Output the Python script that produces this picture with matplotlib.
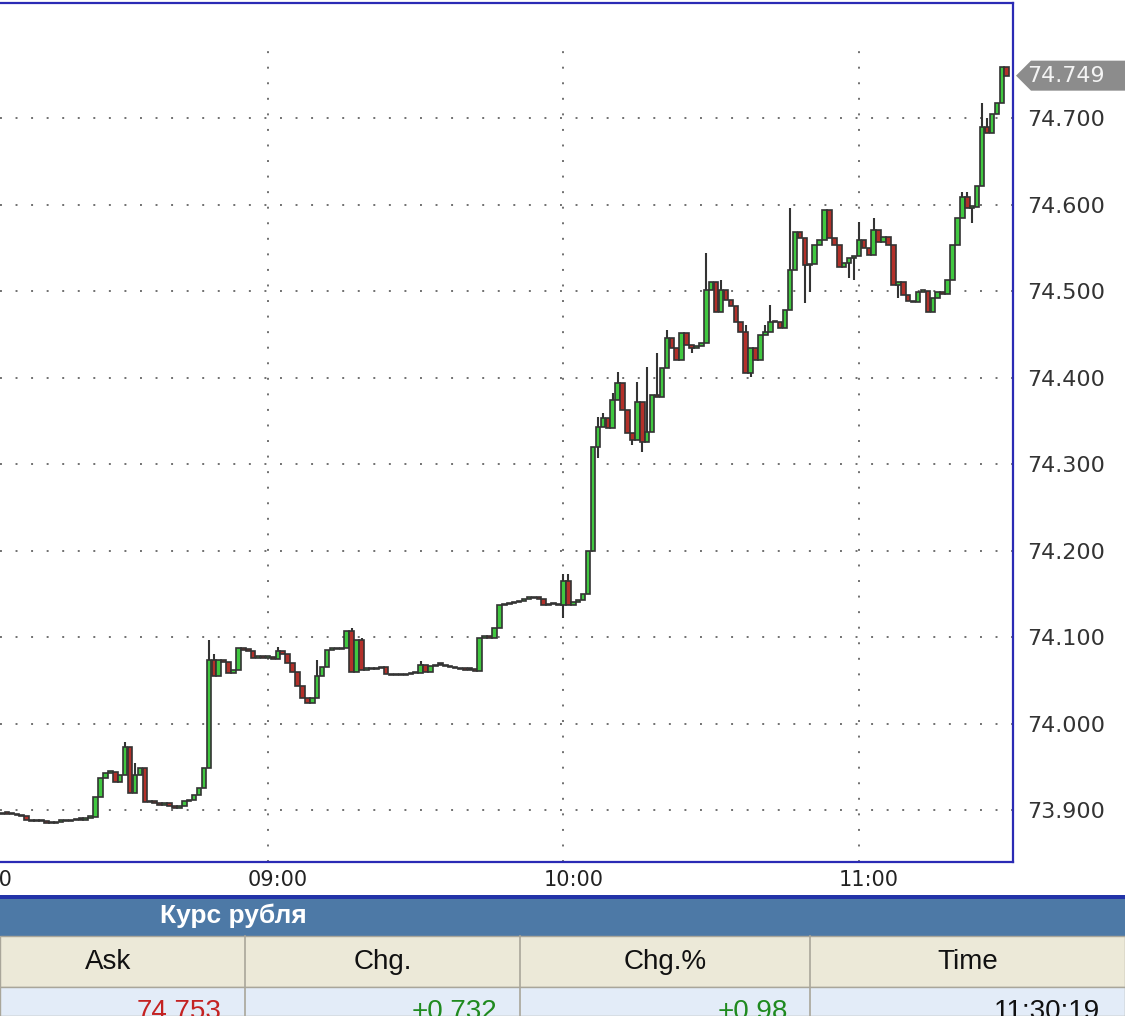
import numpy as np
import matplotlib
matplotlib.use("Agg")
import matplotlib.pyplot as plt
from matplotlib.patches import Rectangle, Polygon
from matplotlib.transforms import blended_transform_factory

# 1-minute candles, first one at 08:06
START_MIN = 8 * 60 + 6

opens = [
    73.895, 73.897, 73.896, 73.895, 73.894, 73.893, 73.888, 73.887, 73.888, 73.887,
    73.885, 73.885, 73.886, 73.888, 73.887, 73.888, 73.889, 73.889, 73.891, 73.892,
    73.915, 73.937, 73.943, 73.944, 73.932, 73.941, 73.973, 73.920, 73.940, 73.949,
    73.909, 73.911, 73.908, 73.906, 73.908, 73.905, 73.903, 73.905, 73.910, 73.912,
    73.917, 73.926, 73.949, 74.073, 74.055, 74.073, 74.071, 74.058, 74.062, 74.087,
    74.085, 74.084, 74.076, 74.078, 74.076, 74.077, 74.075, 74.084, 74.080, 74.070,
    74.060, 74.043, 74.030, 74.024, 74.030, 74.055, 74.065, 74.085, 74.087, 74.086,
    74.087, 74.107, 74.060, 74.097, 74.062, 74.064, 74.063, 74.064, 74.065, 74.057,
    74.056, 74.056, 74.056, 74.057, 74.058, 74.059, 74.068, 74.060, 74.066, 74.068,
    74.068, 74.066, 74.065, 74.064, 74.063, 74.062, 74.062, 74.061, 74.099, 74.100,
    74.099, 74.110, 74.137, 74.138, 74.139, 74.140, 74.142, 74.144, 74.145, 74.145,
    74.144, 74.137, 74.138, 74.138, 74.137, 74.165, 74.137, 74.140, 74.143, 74.150,
    74.200, 74.320, 74.343, 74.353, 74.342, 74.374, 74.394, 74.362, 74.336, 74.328,
    74.372, 74.325, 74.337, 74.380, 74.377, 74.411, 74.446, 74.434, 74.420, 74.451,
    74.438, 74.434, 74.436, 74.440, 74.501, 74.510, 74.476, 74.501, 74.490, 74.483,
    74.464, 74.453, 74.405, 74.434, 74.420, 74.449, 74.453, 74.464, 74.464, 74.457,
    74.478, 74.524, 74.568, 74.561, 74.530, 74.531, 74.553, 74.559, 74.594, 74.561,
    74.553, 74.528, 74.532, 74.538, 74.540, 74.559, 74.550, 74.542, 74.571, 74.557,
    74.562, 74.553, 74.507, 74.511, 74.495, 74.489, 74.487, 74.499, 74.500, 74.476,
    74.492, 74.499, 74.497, 74.513, 74.553, 74.584, 74.609, 74.596, 74.597, 74.622,
    74.690, 74.683, 74.705, 74.717, 74.759,
]
closes = [
    73.897, 73.896, 73.895, 73.894, 73.893, 73.888, 73.887, 73.888, 73.887, 73.885,
    73.885, 73.886, 73.888, 73.887, 73.888, 73.889, 73.889, 73.891, 73.892, 73.915,
    73.937, 73.943, 73.944, 73.932, 73.941, 73.973, 73.920, 73.940, 73.949, 73.909,
    73.911, 73.908, 73.906, 73.908, 73.905, 73.903, 73.905, 73.910, 73.912, 73.917,
    73.926, 73.949, 74.073, 74.055, 74.073, 74.071, 74.058, 74.062, 74.087, 74.085,
    74.084, 74.076, 74.078, 74.076, 74.077, 74.075, 74.084, 74.080, 74.070, 74.060,
    74.043, 74.030, 74.024, 74.030, 74.055, 74.065, 74.085, 74.087, 74.086, 74.087,
    74.107, 74.060, 74.097, 74.062, 74.064, 74.063, 74.064, 74.065, 74.057, 74.056,
    74.056, 74.056, 74.057, 74.058, 74.059, 74.068, 74.060, 74.066, 74.068, 74.068,
    74.066, 74.065, 74.064, 74.063, 74.062, 74.062, 74.061, 74.099, 74.100, 74.099,
    74.110, 74.137, 74.138, 74.139, 74.140, 74.142, 74.144, 74.145, 74.145, 74.144,
    74.137, 74.138, 74.138, 74.137, 74.165, 74.137, 74.140, 74.143, 74.150, 74.200,
    74.320, 74.343, 74.353, 74.342, 74.374, 74.394, 74.362, 74.336, 74.328, 74.372,
    74.325, 74.337, 74.380, 74.377, 74.411, 74.446, 74.434, 74.420, 74.451, 74.438,
    74.434, 74.436, 74.440, 74.501, 74.510, 74.476, 74.501, 74.490, 74.483, 74.464,
    74.453, 74.405, 74.434, 74.420, 74.449, 74.453, 74.464, 74.464, 74.457, 74.478,
    74.524, 74.568, 74.561, 74.530, 74.531, 74.553, 74.559, 74.594, 74.561, 74.553,
    74.528, 74.532, 74.538, 74.540, 74.559, 74.550, 74.542, 74.571, 74.557, 74.562,
    74.553, 74.507, 74.511, 74.495, 74.489, 74.487, 74.499, 74.500, 74.476, 74.492,
    74.499, 74.497, 74.513, 74.553, 74.584, 74.609, 74.596, 74.597, 74.622, 74.690,
    74.683, 74.705, 74.717, 74.759, 74.749,
]
# wicks that stick out of the body (candle index -> price)
wick_high = {25: 73.979, 27: 73.954, 42: 74.097, 43: 74.080, 56: 74.088, 64: 74.073,
             71: 74.110, 73: 74.099, 85: 74.072, 114: 74.173, 115: 74.173,
             121: 74.354, 122: 74.359, 124: 74.382, 125: 74.406, 129: 74.395,
             131: 74.412, 133: 74.428, 135: 74.455, 143: 74.544, 146: 74.513,
             151: 74.461, 155: 74.461, 156: 74.484, 160: 74.596, 174: 74.580,
             177: 74.584, 195: 74.614, 196: 74.614, 199: 74.717, 200: 74.700}
wick_low = {114: 74.122, 121: 74.307, 128: 74.322, 130: 74.314, 140: 74.428,
            152: 74.401, 163: 74.486, 164: 74.499, 172: 74.515, 173: 74.513,
            182: 74.492, 197: 74.579}

y_ticks = [73.9, 74.0, 74.1, 74.2, 74.3, 74.4, 74.5, 74.6, 74.7]
x_ticks = ["08:00", "09:00", "10:00", "11:00"]
last_price = 74.749

table_title = "Курс рубля"
table_cols = ["Ask", "Chg.", "Chg.%", "Time"]
table_vals = ["74.753", "+0.732", "+0.98", "11:30:19"]
table_val_colors = ["#c42222", "#1f8a1f", "#1f8a1f", "#111111"]

W, H = 1125, 1016
GREEN, RED, EDGE = "#40c840", "#b3302a", "#333333"
BLUE = "#2b2bb5"


def fx(x):
    return x / W


def fy(y):
    return 1 - y / H


fig = plt.figure(figsize=(W / 100, H / 100), dpi=100)
ax = fig.add_axes([0, fy(862), fx(1013), (862 - 3) / H])

times = START_MIN + np.arange(len(closes))
ax.set_xlim(START_MIN - 0.41, START_MIN + 205.28)
ax.set_ylim(73.840, 74.833)

# dotted grid
for v in y_ticks:
    ax.axhline(v, color="#707070", lw=1.4, ls=(0, (1, 7)), zorder=1)
for lab in x_ticks[1:]:
    h, m = map(int, lab.split(":"))
    ax.axvline(h * 60 + m, ymax=0.95, color="#707070", lw=1.4, ls=(0, (1, 7)), zorder=1)

# candles
bw = 0.92
for t, o, c, i in zip(times, opens, closes, range(len(closes))):
    hi = max(o, c, wick_high.get(i, o))
    lo = min(o, c, wick_low.get(i, o))
    ax.vlines(t, lo, hi, color=EDGE, lw=1.5, zorder=2)
    if c > o:
        fc = GREEN
    elif c < o:
        fc = RED
    else:
        fc = EDGE
    ax.add_patch(Rectangle((t - bw / 2, min(o, c)), bw, max(abs(c - o), 0.0018),
                           facecolor=fc, edgecolor=EDGE, lw=1.2, zorder=3))

# frame
ax.spines["left"].set_visible(False)
for s in ["top", "right", "bottom"]:
    ax.spines[s].set_color(BLUE)
    ax.spines[s].set_linewidth(1.6)

ax.yaxis.tick_right()
ax.set_yticks(y_ticks)
ax.set_yticklabels([f"{v:.3f}" for v in y_ticks])
ax.tick_params(axis="y", length=0, pad=10, labelsize=16, labelcolor="#333333")
ax.set_xticks([])

xt = blended_transform_factory(ax.transData, fig.transFigure)
for lab in x_ticks:
    h, m = map(int, lab.split(":"))
    ax.text(h * 60 + m + 2.0, fy(880), lab, transform=xt, ha="center", va="center",
            fontsize=15, color="#222222", clip_on=False)

# last price tag
tt = blended_transform_factory(fig.transFigure, ax.transData)
hh = 15 / 865
tag = Polygon([(fx(1016), last_price), (fx(1031), last_price + hh),
               (fx(1125), last_price + hh), (fx(1125), last_price - hh),
               (fx(1031), last_price - hh)], closed=True, transform=tt,
              facecolor="#8c8c8c", edgecolor="none", clip_on=False, zorder=5)
fig.patches.append(tag)
fig.text(fx(1027), fy(76), f"{last_price:.3f}", ha="left", va="center",
         fontsize=16, color="#f4f4f4", zorder=6)


# table below the chart
def frect(x0, y0, x1, y1, **kw):
    fig.patches.append(Rectangle((fx(x0), fy(y1)), fx(x1) - fx(x0), fy(y0) - fy(y1),
                                 transform=fig.transFigure, **kw))


frect(0, 895, W, 899, facecolor="#2233a8", edgecolor="none")
frect(0, 899, W, 936, facecolor="#4d79a6", edgecolor="none")
frect(0, 936, W, 987, facecolor="#ece9d8", edgecolor="#a9a69a", lw=1)
frect(0, 987, W, H, facecolor="#e3ecf8", edgecolor="#a9a69a", lw=1)
for xs in [245, 520, 810]:
    fig.add_artist(plt.Line2D([fx(xs), fx(xs)], [fy(936), fy(H)], color="#a9a69a", lw=1.2))

tfont = ["Liberation Sans Narrow", "Liberation Sans", "DejaVu Sans"]
fig.text(fx(233), fy(916), table_title, ha="center", va="center", fontsize=19,
         fontweight="bold", color="white", family=tfont)
col_centers = [108, 383, 665, 968]
col_rights = [222, 497, 788, 1100]
for c, lab in zip(col_centers, table_cols):
    fig.text(fx(c), fy(962), lab, ha="center", va="center", fontsize=20,
             color="#111111", family=tfont)
for r, val, col in zip(col_rights, table_vals, table_val_colors):
    fig.text(fx(r), fy(1012), val, ha="right", va="center", fontsize=20,
             color=col, family=tfont)

fig.savefig("out.png", dpi=100)
